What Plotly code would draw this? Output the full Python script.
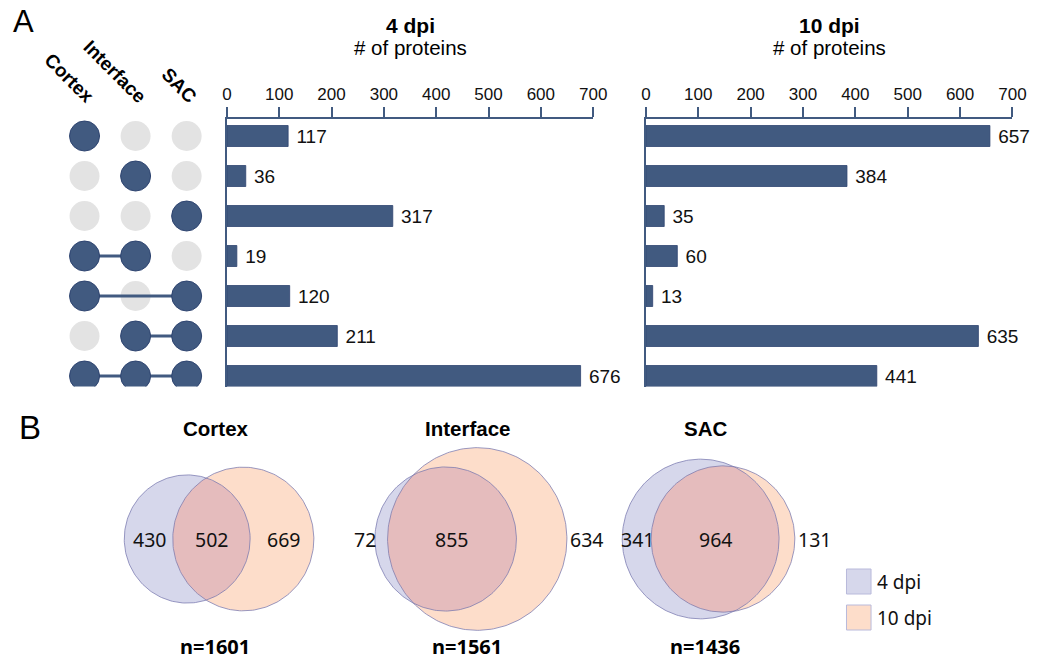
import numpy as np
import plotly.graph_objects as go

# ---------------- data ----------------
sets = ["Cortex", "Interface", "SAC"]
# membership pattern of each row in the UpSet matrix (1 = member)
membership = [
    [1, 0, 0],
    [0, 1, 0],
    [0, 0, 1],
    [1, 1, 0],
    [1, 0, 1],
    [0, 1, 1],
    [1, 1, 1],
]
counts_4dpi = [117, 36, 317, 19, 120, 211, 676]
counts_10dpi = [657, 384, 35, 60, 13, 635, 441]
bar_ticks = [0, 100, 200, 300, 400, 500, 600, 700]

venn_titles = ["Cortex", "Interface", "SAC"]
venn_only_4dpi = [430, 72, 341]
venn_shared = [502, 855, 964]
venn_only_10dpi = [669, 634, 131]
venn_totals = [1601, 1561, 1436]
legend_labels = ["4 dpi", "10 dpi"]

# ---------------- style ----------------
FW, FH = 1050, 661
NAVY = "#415A80"
NAVY_EDGE = "#2E4470"
GRAY = "#E3E3E3"
C4 = "#D6D7EB"
C10 = "#FDDDCA"
CBOTH = "#E5BCBD"
EDGE = "rgba(120,120,175,0.75)"
ARIAL = "Liberation Sans, Arial, sans-serif"
NOTO = "Noto Sans, Open Sans, sans-serif"


def py(pix):
    """pixel row -> paper fraction"""
    return 1 - pix / FH


def px(pix):
    return pix / FW


# bar panel geometry (pixels)
ROW0, ROWSTEP = 136, 40
AX_TOP, AX_BOT = 119, 386.5
y_range = [(AX_BOT - ROW0) / ROWSTEP, (AX_TOP - ROW0) / ROWSTEP]
y_domain = [py(AX_BOT), py(AX_TOP)]

fig = go.Figure()
rows = list(range(len(membership)))

# ---- bar charts ----
for counts, xa, ya in [(counts_4dpi, "x2", "y2"), (counts_10dpi, "x3", "y3")]:
    fig.add_trace(go.Bar(
        x=counts, y=rows, orientation="h", xaxis=xa, yaxis=ya,
        width=0.525, marker=dict(color=NAVY, line=dict(color=NAVY_EDGE, width=0.8)),
        text=["\u00a0" + str(v) for v in counts], textposition="outside",
        constraintext="none",
        textfont=dict(family=ARIAL, size=19, color="#111"), cliponaxis=False,
        showlegend=False, hoverinfo="skip"))

# ---- dot matrix ----
gx, gy, nx, ny = [], [], [], []
lx, ly = [], []
for r, mem in enumerate(membership):
    on = [c for c, m in enumerate(mem) if m]
    for c, m in enumerate(mem):
        if m:
            nx.append(c); ny.append(r)
        else:
            gx.append(c); gy.append(r)
    if len(on) > 1:
        lx += [min(on), max(on), None]
        ly += [r, r, None]
fig.add_trace(go.Scatter(x=gx, y=gy, mode="markers", xaxis="x4", yaxis="y4",
                         marker=dict(size=30, color=GRAY, line=dict(width=0)),
                         showlegend=False, hoverinfo="skip"))
fig.add_trace(go.Scatter(x=lx, y=ly, mode="lines", xaxis="x4", yaxis="y4",
                         line=dict(color=NAVY, width=3),
                         showlegend=False, hoverinfo="skip"))
fig.add_trace(go.Scatter(x=nx, y=ny, mode="markers", xaxis="x4", yaxis="y4",
                         marker=dict(size=30, color=NAVY, line=dict(width=1, color=NAVY_EDGE)),
                         showlegend=False, hoverinfo="skip"))

annotations = []
for c, name in enumerate(sets):
    annotations.append(dict(
        text="<b>%s</b>" % name, xref="x4", yref="paper", x=c, y=py(110),
        xanchor="right", yanchor="bottom", xshift=17, textangle=45, showarrow=False,
        font=dict(family=ARIAL, size=19, color="#000")))

# ---- Venn diagrams (area proportional) ----
def lens_area(r1, r2, d):
    if d >= r1 + r2:
        return 0.0
    if d <= abs(r1 - r2):
        return np.pi * min(r1, r2) ** 2
    a1 = r1 ** 2 * np.arccos((d * d + r1 * r1 - r2 * r2) / (2 * d * r1))
    a2 = r2 ** 2 * np.arccos((d * d + r2 * r2 - r1 * r1) / (2 * d * r2))
    t = 0.5 * np.sqrt((-d + r1 + r2) * (d + r1 - r2) * (d - r1 + r2) * (d + r1 + r2))
    return a1 + a2 - t


def solve_d(r1, r2, target):
    lo, hi = abs(r1 - r2) + 1e-6, r1 + r2 - 1e-6
    for _ in range(80):
        mid = 0.5 * (lo + hi)
        if lens_area(r1, r2, mid) > target:
            lo = mid
        else:
            hi = mid
    return 0.5 * (lo + hi)


venn_mid_x = [218, 474.5, 716.5]      # horizontal centre of each diagram (px)
venn_scale = [13.85, 17.6, 15.35]     # px^2 per protein
venn_cy = 539
label_mode = [("in", "in"), ("out", "out"), ("in", "out")]
theta = np.linspace(0, 2 * np.pi, 241)

for i in range(3):
    s = venn_scale[i]
    n1 = venn_only_4dpi[i] + venn_shared[i]
    n2 = venn_only_10dpi[i] + venn_shared[i]
    r1 = np.sqrt(s * n1 / np.pi)
    r2 = np.sqrt(s * n2 / np.pi)
    d = solve_d(r1, r2, s * venn_shared[i])
    c1 = venn_mid_x[i] - (d + r2 - r1) / 2
    c2 = c1 + d
    # circles
    for cx, r, col in [(c1, r1, C4), (c2, r2, C10)]:
        fig.add_trace(go.Scatter(x=cx + r * np.cos(theta), y=venn_cy + r * np.sin(theta),
                                 mode="lines", fill="toself", fillcolor=col,
                                 line=dict(width=0), xaxis="x", yaxis="y",
                                 showlegend=False, hoverinfo="skip"))
    # lens (intersection)
    xi = (d * d + r1 * r1 - r2 * r2) / (2 * d)
    hh = np.sqrt(max(r1 * r1 - xi * xi, 0))
    a1 = np.arctan2(hh, xi)
    a2 = np.arctan2(hh, xi - d)
    t1 = np.linspace(-a1, a1, 120)
    t2 = np.linspace(a2, 2 * np.pi - a2, 120)
    lxs = np.concatenate([c1 + r1 * np.cos(t1), c2 + r2 * np.cos(t2)])
    lys = np.concatenate([venn_cy + r1 * np.sin(t1), venn_cy + r2 * np.sin(t2)])
    fig.add_trace(go.Scatter(x=lxs, y=lys, mode="lines", fill="toself", fillcolor=CBOTH,
                             line=dict(width=0), xaxis="x", yaxis="y",
                             showlegend=False, hoverinfo="skip"))
    for cx, r in [(c1, r1), (c2, r2)]:
        fig.add_trace(go.Scatter(x=cx + r * np.cos(theta), y=venn_cy + r * np.sin(theta),
                                 mode="lines", line=dict(width=1, color=EDGE),
                                 xaxis="x", yaxis="y", showlegend=False, hoverinfo="skip"))
    # labels
    lf = dict(family=NOTO, size=19.5, color="#111")
    left_in, right_in = label_mode[i]
    if left_in == "in":
        annotations.append(dict(text=str(venn_only_4dpi[i]), xref="x", yref="y",
                                x=((c1 - r1) + (c2 - r2)) / 2 + 1, y=venn_cy, showarrow=False, font=lf))
    else:
        annotations.append(dict(text=str(venn_only_4dpi[i]), xref="x", yref="y",
                                x=c1 - r1 + 3, y=venn_cy, xanchor="right", showarrow=False, font=lf))
    annotations.append(dict(text=str(venn_shared[i]), xref="x", yref="y",
                            x=((c2 - r2) + (c1 + r1)) / 2, y=venn_cy, showarrow=False, font=lf))
    if right_in == "in":
        annotations.append(dict(text=str(venn_only_10dpi[i]), xref="x", yref="y",
                                x=((c1 + r1) + (c2 + r2)) / 2 + 2, y=venn_cy, showarrow=False, font=lf))
    else:
        annotations.append(dict(text=str(venn_only_10dpi[i]), xref="x", yref="y",
                                x=c2 + r2 + 1, y=venn_cy, xanchor="left", showarrow=False, font=lf))
    annotations.append(dict(text="<b>%s</b>" % venn_titles[i], xref="x", yref="y",
                            x=venn_mid_x[i] - 3, y=428, showarrow=False,
                            font=dict(family=ARIAL, size=20.5, color="#000")))
    annotations.append(dict(text="<b>n=%d</b>" % venn_totals[i], xref="x", yref="y",
                            x=venn_mid_x[i] - 4, y=646, showarrow=False,
                            font=dict(family=NOTO, size=20, color="#000")))

# ---- legend (manual) ----
shapes = []
for k, (lab, col) in enumerate(zip(legend_labels, [C4, C10])):
    y0 = 569 + 36 * k
    shapes.append(dict(type="rect", xref="x", yref="y", x0=857, x1=882, y0=y0, y1=y0 + 25,
                       fillcolor=col, line=dict(color="#B9BADB", width=1), layer="above"))
    annotations.append(dict(text=lab, xref="x", yref="y", x=886, y=y0 + 12.5,
                            xanchor="left", showarrow=False,
                            font=dict(family=NOTO, size=19, color="#111")))

# ---- panel titles and letters ----
for title, (a, b) in [("4 dpi", (226, 599)), ("10 dpi", (652.7, 1026))]:
    cx = (a + b) / 2
    annotations.append(dict(text="<b>%s</b>" % title, xref="x", yref="y", x=cx, y=25,
                            showarrow=False, font=dict(family=ARIAL, size=21, color="#000")))
    annotations.append(dict(text="# of proteins", xref="x", yref="y", x=cx, y=47.5,
                            showarrow=False, font=dict(family=ARIAL, size=20.5, color="#000")))
annotations.append(dict(text="A", xref="x", yref="y", x=19, y=21,
                        showarrow=False, font=dict(family=ARIAL, size=31, color="#000")))
annotations.append(dict(text="B", xref="x", yref="y", x=25, y=427,
                        showarrow=False, font=dict(family=ARIAL, size=33, color="#000")))

bar_x_common = dict(side="top", range=[0, 700], tickvals=bar_ticks, ticks="outside",
                    ticklen=10, tickwidth=1.5, tickcolor=NAVY, showline=True, linecolor=NAVY,
                    linewidth=1.5, showgrid=False, zeroline=False,
                    tickfont=dict(family=ARIAL, size=17, color="#111"), fixedrange=True)
bar_y_common = dict(range=y_range, domain=y_domain, showline=True, linecolor=NAVY,
                    linewidth=1.5, showticklabels=False, ticks="", showgrid=False,
                    zeroline=False, fixedrange=True)

fig.update_layout(
    width=FW, height=FH, margin=dict(l=0, r=0, t=0, b=0),
    paper_bgcolor="white", plot_bgcolor="rgba(0,0,0,0)",
    xaxis=dict(range=[0, FW], domain=[0, 1], visible=False, fixedrange=True),
    yaxis=dict(range=[FH, 0], domain=[0, 1], visible=False, fixedrange=True),
    xaxis2=dict(domain=[px(226), px(599)], anchor="y2", **bar_x_common),
    yaxis2=dict(anchor="x2", **bar_y_common),
    xaxis3=dict(domain=[px(652.7), px(1026)], anchor="y3", **bar_x_common),
    yaxis3=dict(anchor="x3", **bar_y_common),
    xaxis4=dict(domain=[px(55), px(211)], range=[-0.5, 2.5], anchor="y4", visible=False,
                fixedrange=True),
    yaxis4=dict(domain=y_domain, range=y_range, anchor="x4", visible=False, fixedrange=True),
    annotations=annotations, shapes=shapes, showlegend=False,
)

fig.write_html("out.html", config={"displayModeBar": False},
               post_script="document.body.style.margin='0px';")
